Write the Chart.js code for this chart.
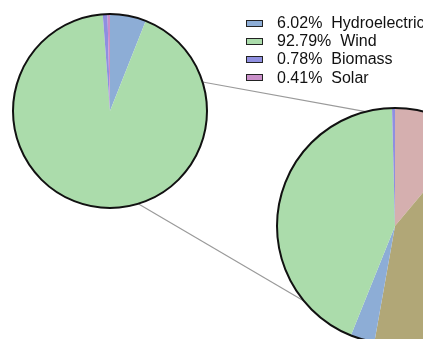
<!DOCTYPE html>
<html>
<head>
<meta charset="utf-8">
<script src="https://cdn.jsdelivr.net/npm/chart.js@4"></script>
<style>
  html, body { margin: 0; padding: 0; background: #fff; }
  body { width: 423px; height: 339px; overflow: hidden; position: relative; font-family: "Liberation Sans", Arial, sans-serif; }
  #links { position: absolute; left: 0; top: 0; z-index: 0; }
  .pie { position: absolute; z-index: 1; }
  #legend { position: absolute; left: 246px; top: 14px; z-index: 2; }
  .row { height: 18.2px; display: flex; align-items: center; white-space: pre; font-size: 16px; color: #111; line-height: 18px; }
  .box { width: 15px; height: 5px; border: 1.5px solid #222; margin-right: 14px; flex: none; }
</style>
</head>
<body>
<canvas id="links" width="423" height="339"></canvas>
<canvas id="overview" class="pie" width="202" height="202" style="left:9px;top:10px"></canvas>
<canvas id="detail" class="pie" width="244" height="244" style="left:273px;top:104px"></canvas>
<div id="legend"></div>
<script>
// Energy mix overview (share of total, %)
const sourceLabels = ['Hydroelectric', 'Wind', 'Biomass', 'Solar'];
const sourceShares = [6.02, 92.79, 0.78, 0.41];
const sourceColors = ['#8dadd6', '#abdcab', '#8f8fe0', '#c98fc9'];

// Enlarged breakdown (share of the detail pie, %)
const detailLabels = ['Other (rose)', 'Other (olive)', 'Hydroelectric', 'Wind', 'Biomass'];
const detailShares = [11.1, 41.7, 3.3, 43.5, 0.4];
const detailColors = ['#d5afaf', '#b1a777', '#8dadd6', '#abdcab', '#8f8fe0'];

// Stroke the outer rim of the pie
const rimPlugin = {
  id: 'rim',
  afterDatasetsDraw(chart) {
    const arc = chart.getDatasetMeta(0).data[0];
    if (!arc) return;
    const ctx = chart.ctx;
    ctx.save();
    ctx.beginPath();
    ctx.arc(arc.x, arc.y, arc.outerRadius, 0, Math.PI * 2);
    ctx.lineWidth = 2;
    ctx.strokeStyle = '#111';
    ctx.stroke();
    ctx.restore();
  }
};

function makePie(id, labels, values, colors) {
  return new Chart(document.getElementById(id), {
    type: 'pie',
    data: {
      labels: labels,
      datasets: [{
        data: values,
        backgroundColor: colors,
        borderWidth: 0
      }]
    },
    options: {
      responsive: false,
      animation: false,
      events: [],
      layout: { padding: 4 },
      plugins: { legend: { display: false }, tooltip: { enabled: false } }
    },
    plugins: [rimPlugin]
  });
}

const overview = makePie('overview', sourceLabels, sourceShares, sourceColors);
const detail = makePie('detail', detailLabels, detailShares, detailColors);

// Legend for the overview pie
const legend = document.getElementById('legend');
sourceLabels.forEach((name, i) => {
  const row = document.createElement('div');
  row.className = 'row';
  const box = document.createElement('span');
  box.className = 'box';
  box.style.background = sourceColors[i];
  const txt = document.createElement('span');
  txt.textContent = sourceShares[i].toFixed(2) + '%  ' + name;
  row.appendChild(box);
  row.appendChild(txt);
  legend.appendChild(row);
});

// Connector lines between the two pies
function rimPoint(chart, canvasId, deg) {
  const arc = chart.getDatasetMeta(0).data[0];
  const el = document.getElementById(canvasId);
  const a = deg * Math.PI / 180;
  return {
    x: el.offsetLeft + arc.x + arc.outerRadius * Math.sin(a),
    y: el.offsetTop + arc.y - arc.outerRadius * Math.cos(a)
  };
}
const links = document.getElementById('links').getContext('2d');
links.strokeStyle = '#9a9a9a';
links.lineWidth = 1.2;
[[72.6, 345.6], [163.1, 230.5]].forEach(([a, b]) => {
  const p = rimPoint(overview, 'overview', a);
  const q = rimPoint(detail, 'detail', b);
  links.beginPath();
  links.moveTo(p.x, p.y);
  links.lineTo(q.x, q.y);
  links.stroke();
});
</script>
</body>
</html>
